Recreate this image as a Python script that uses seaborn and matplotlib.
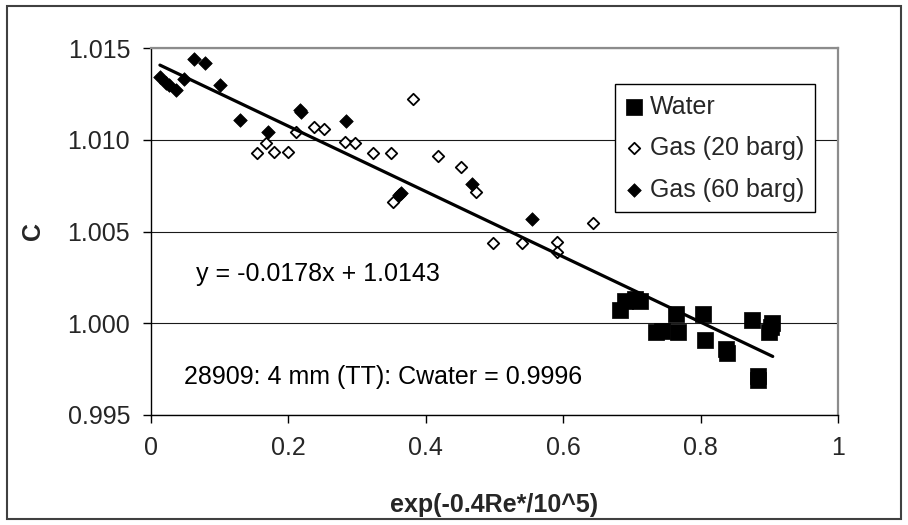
import matplotlib
matplotlib.use("Agg")
import matplotlib.pyplot as plt
import seaborn as sns
import numpy as np
from matplotlib.patches import Rectangle

# ---- data ----
water_x = [0.683, 0.690, 0.705, 0.712, 0.735, 0.744, 0.764, 0.767, 0.803, 0.806,
           0.837, 0.838, 0.875, 0.883, 0.884, 0.900, 0.904, 0.903]
water_y = [1.0007, 1.0012, 1.0013, 1.0012, 0.9995, 0.9996, 1.0005, 0.9995, 1.0005, 0.9991,
           0.9986, 0.9984, 1.0002, 0.9971, 0.9969, 0.9995, 1.0000, 0.9998]

gas20_x = [0.154, 0.167, 0.179, 0.200, 0.211, 0.237, 0.252, 0.282, 0.297, 0.323,
           0.349, 0.352, 0.381, 0.418, 0.451, 0.473, 0.498, 0.540, 0.591, 0.591, 0.643]
gas20_y = [1.00926, 1.00981, 1.00932, 1.00932, 1.01041, 1.01068, 1.01057, 1.00986, 1.00981, 1.00926,
           1.00926, 1.00659, 1.01221, 1.00910, 1.00850, 1.00714, 1.00436, 1.00436, 1.00441, 1.00387, 1.00545]

gas60_x = [0.013, 0.022, 0.026, 0.036, 0.048, 0.063, 0.079, 0.100, 0.130, 0.170,
           0.217, 0.219, 0.284, 0.361, 0.364, 0.467, 0.555]
gas60_y = [1.0134, 1.0131, 1.0130, 1.0127, 1.0133, 1.0144, 1.0142, 1.0130, 1.0111, 1.0104,
           1.0116, 1.0115, 1.0110, 1.0070, 1.0071, 1.0076, 1.0057]

fit_slope = -0.0178
fit_intercept = 1.0143
fit_x = [0.013, 0.905]

x_ticks = [0, 0.2, 0.4, 0.6, 0.8, 1]
x_ticklabels = ["0", "0.2", "0.4", "0.6", "0.8", "1"]
y_ticks = [0.995, 1.000, 1.005, 1.010, 1.015]
y_ticklabels = ["0.995", "1.000", "1.005", "1.010", "1.015"]

eq_text = "y = -0.0178x + 1.0143"
note_text = "28909: 4 mm (TT): Cwater = 0.9996"
x_label = "exp(-0.4Re*/10^5)"
y_label = "C"

# ---- style ----
sns.set_theme(style="white")
plt.rcParams["font.family"] = ["Liberation Sans", "DejaVu Sans"]
FS = 18

W, H = 908, 525
fig = plt.figure(figsize=(W / 100, H / 100), dpi=100)
L, R, T, B = 151, 838, 48, 415
ax = fig.add_axes([L / W, 1 - B / H, (R - L) / W, (B - T) / H])
ax.set_facecolor("white")

# gridlines
ax.set_axisbelow(True)
ax.yaxis.grid(True, color="#1a1a1a", linewidth=0.8)
ax.xaxis.grid(False)

sns.scatterplot(x=water_x, y=water_y, ax=ax, marker="s", s=120, color="black",
                edgecolor="black", linewidth=0.5, label="Water", zorder=3)
sns.scatterplot(x=gas20_x, y=gas20_y, ax=ax, marker="D", s=34, color="white",
                edgecolor="black", linewidth=1.3, label="Gas (20 barg)", zorder=3)
sns.scatterplot(x=gas60_x, y=gas60_y, ax=ax, marker="D", s=48, color="black",
                edgecolor="black", linewidth=0.5, label="Gas (60 barg)", zorder=3)

fit_y = [fit_slope * v + fit_intercept for v in fit_x]
sns.lineplot(x=fit_x, y=fit_y, ax=ax, color="black", linewidth=2.3, zorder=4)

ax.set_xlim(0, 1)
ax.set_ylim(0.995, 1.015)
ax.set_xticks(x_ticks)
ax.set_xticklabels(x_ticklabels, fontsize=FS)
ax.set_yticks(y_ticks)
ax.set_yticklabels(y_ticklabels, fontsize=FS)
ax.tick_params(axis="both", direction="out", length=6, width=1, color="black",
               bottom=True, left=True)
ax.tick_params(axis="x", pad=9)
ax.tick_params(axis="y", pad=9)

for side in ["left", "bottom"]:
    ax.spines[side].set_color("black")
    ax.spines[side].set_linewidth(1.0)
for side in ["top", "right"]:
    ax.spines[side].set_color("#8c8c8c")
    ax.spines[side].set_linewidth(1.6)

ax.set_xlabel(x_label, fontsize=FS, fontweight="bold")
ax.xaxis.label.set_va("center")
ax.xaxis.set_label_coords(0.5, (B - 505) / (B - T))
ax.set_ylabel(y_label, fontsize=FS, fontweight="bold")
ax.yaxis.label.set_va("center")
ax.yaxis.set_label_coords((33 - L) / (R - L), 0.5)

ax.text((196 - L) / (R - L), (B - 274) / (B - T), eq_text, transform=ax.transAxes,
        fontsize=FS, ha="left", va="center", color="black")
ax.text((184 - L) / (R - L), (B - 377) / (B - T), note_text, transform=ax.transAxes,
        fontsize=FS, ha="left", va="center", color="black")

leg = ax.legend(loc="upper right", bbox_to_anchor=((815 - L) / (R - L), (B - 84) / (B - T)),
                fontsize=FS, frameon=True, fancybox=False, framealpha=1, edgecolor="black",
                handlelength=0.72, handletextpad=0.28, borderpad=0.42, labelspacing=0.7,
                borderaxespad=0)
leg.get_frame().set_linewidth(1.0)
leg.set_zorder(5)

# outer chart border
fig.patches.append(Rectangle((7 / W, 6 / H), (901 - 7) / W, (519 - 6) / H,
                             transform=fig.transFigure, fill=False,
                             edgecolor="#404040", linewidth=1.5))

fig.savefig("out.png", dpi=100, facecolor="white")
